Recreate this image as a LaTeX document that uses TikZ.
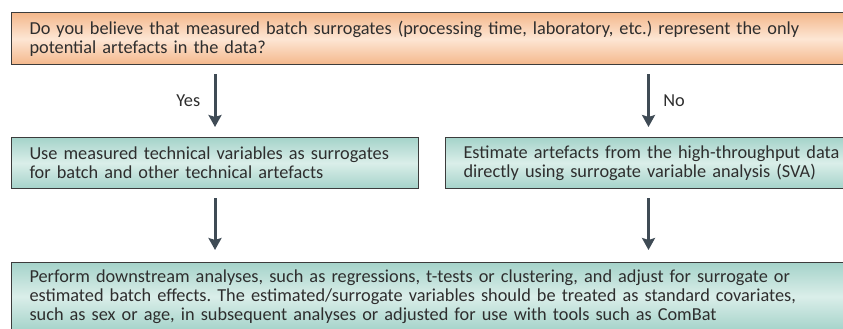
\documentclass[tikz,border=0pt]{standalone}
\usepackage{fontspec}
\setmainfont{Carlito}
\usetikzlibrary{arrows.meta}
\frenchspacing

\definecolor{boxline}{HTML}{3C3C3C}
\definecolor{orangeedge}{HTML}{F4B88C}
\definecolor{orangemid}{HTML}{FDE6D4}
\definecolor{greenedge}{HTML}{A5D3CA}
\definecolor{greenmid}{HTML}{DAEEE9}
\definecolor{arrowcol}{HTML}{3F4B55}
\definecolor{textcol}{HTML}{2E2E2E}

\tikzset{
    stepbase/.style={draw=boxline, line width=1pt, anchor=north west, align=left,
        inner xsep=18pt, inner ysep=0pt, text=textcol, font=\fontsize{18.3}{19}\selectfont},
    questionbox/.style={stepbase, top color=orangeedge, bottom color=orangeedge,
        middle color=orangemid},
    answerbox/.style={stepbase, top color=greenedge, bottom color=greenedge,
        middle color=greenmid},
    flow/.style={draw=arrowcol, line width=3pt,
        -{Stealth[length=12pt,width=13pt,inset=2pt]}},
    branch/.style={font=\fontsize{18.3}{19}\selectfont, text=textcol}
}

\begin{document}
\begin{tikzpicture}
    \useasboundingbox[fill=white] (0,0) rectangle (843pt,-329pt);

    \node[questionbox, text width=830pt, minimum height=51.5pt] (question) at (11pt,-12.5pt)
        {Do you believe that measured batch surrogates (processing time, laboratory, etc.) represent the only\\
         potential artefacts in the data?};

    \node[answerbox, text width=371pt, minimum height=51pt] (useSurr) at (11pt,-137pt)
        {Use measured technical variables as surrogates\\
         for batch and other technical artefacts};
    \node[answerbox, text width=400pt, minimum height=51pt] (estSVA) at (445pt,-137pt)
        {Estimate artefacts from the high-throughput data\\
         directly using surrogate variable analysis (SVA)};
    \coordinate (noCol) at ([xshift=203.5pt]estSVA.west);

    \node[answerbox, text width=830pt, minimum height=68pt] (downstream) at (11pt,-262pt)
        {Perform downstream analyses, such as regressions, t-tests or clustering, and adjust for surrogate or\\
         estimated batch effects. The estimated/surrogate variables should be treated as standard covariates,\\
         such as sex or age, in subsequent analyses or adjusted for use with tools such as ComBat};

    \draw[flow, shorten <=9pt, shorten >=10pt] (useSurr.north |- question.south) -- (useSurr.north)
        node[branch, midway, left=10pt] {Yes};
    \draw[flow, shorten <=9pt, shorten >=10pt] (noCol |- question.south) -- (noCol |- estSVA.north)
        node[branch, midway, right=10pt] {No};

    \draw[flow, shorten <=9pt, shorten >=12pt] (useSurr.south) -- (useSurr.south |- downstream.north);
    \draw[flow, shorten <=9pt, shorten >=12pt] (noCol |- estSVA.south) -- (noCol |- downstream.north);
\end{tikzpicture}
\end{document}
